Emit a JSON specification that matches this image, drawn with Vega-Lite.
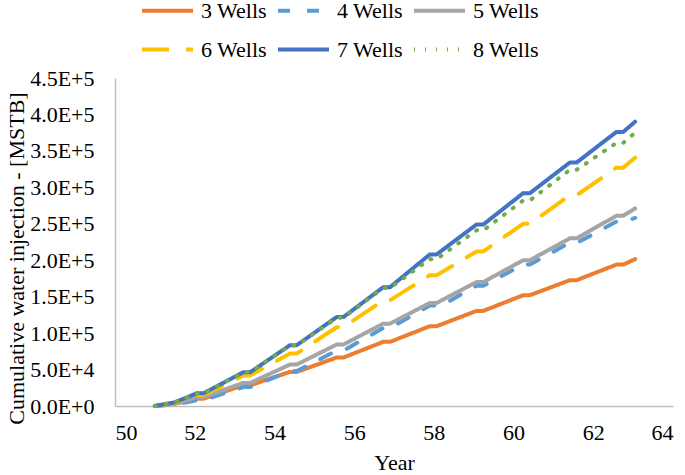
{
  "$schema": "https://vega.github.io/schema/vega-lite/v6.json",
  "width": 558,
  "height": 328,
  "autosize": {"type": "none"},
  "padding": {"left": 115, "top": 78, "right": 12, "bottom": 69},
  "background": "white",
  "config": {
    "view": {"stroke": null},
    "font": "Liberation Serif, Times New Roman, serif",
    "style": {
      "guide-label": {"font": "Liberation Serif, Times New Roman, serif", "fontSize": 22, "fontWeight": "normal", "fill": "#000000"},
      "guide-title": {"font": "Liberation Serif, Times New Roman, serif", "fontSize": 22, "fontWeight": "normal", "fill": "#000000"}
    },
    "axis": {
      "grid": false,
      "ticks": false,
      "tickSize": 0,
      "domainColor": "#BFBFBF",
      "domainWidth": 1.5,
      "labelFont": "Liberation Serif, Times New Roman, serif",
      "labelFontSize": 22,
      "labelFontWeight": "normal",
      "labelColor": "#000000",
      "titleFont": "Liberation Serif, Times New Roman, serif",
      "titleFontSize": 22,
      "titleFontWeight": "normal",
      "titleColor": "#000000"
    },
    "legend": {
      "labelFont": "Liberation Serif, Times New Roman, serif",
      "labelFontSize": 22,
      "labelFontWeight": "normal",
      "labelColor": "#000000"
    }
  },
  "data": {
    "values": [
      {"series": "3 Wells", "year": 51.0, "value": 0},
      {"series": "3 Wells", "year": 51.5, "value": 3},
      {"series": "3 Wells", "year": 52.05, "value": 10},
      {"series": "3 Wells", "year": 52.22, "value": 10},
      {"series": "3 Wells", "year": 53.22, "value": 28.4},
      {"series": "3 Wells", "year": 53.39, "value": 28.4},
      {"series": "3 Wells", "year": 54.39, "value": 46.7},
      {"series": "3 Wells", "year": 54.56, "value": 46.7},
      {"series": "3 Wells", "year": 55.56, "value": 66.5},
      {"series": "3 Wells", "year": 55.73, "value": 66.5},
      {"series": "3 Wells", "year": 56.73, "value": 88},
      {"series": "3 Wells", "year": 56.9, "value": 88},
      {"series": "3 Wells", "year": 57.9, "value": 109.5},
      {"series": "3 Wells", "year": 58.07, "value": 109.5},
      {"series": "3 Wells", "year": 59.07, "value": 130.5},
      {"series": "3 Wells", "year": 59.24, "value": 130.5},
      {"series": "3 Wells", "year": 60.24, "value": 152},
      {"series": "3 Wells", "year": 60.41, "value": 152},
      {"series": "3 Wells", "year": 61.41, "value": 172.6},
      {"series": "3 Wells", "year": 61.58, "value": 172.6},
      {"series": "3 Wells", "year": 62.58, "value": 194},
      {"series": "3 Wells", "year": 62.75, "value": 194},
      {"series": "3 Wells", "year": 63.05, "value": 201.5},

      {"series": "4 Wells", "year": 51.0, "value": 0},
      {"series": "4 Wells", "year": 51.5, "value": 2},
      {"series": "4 Wells", "year": 52.05, "value": 8},
      {"series": "4 Wells", "year": 52.22, "value": 8},
      {"series": "4 Wells", "year": 53.22, "value": 26},
      {"series": "4 Wells", "year": 53.39, "value": 26},
      {"series": "4 Wells", "year": 54.39, "value": 48},
      {"series": "4 Wells", "year": 54.56, "value": 48},
      {"series": "4 Wells", "year": 55.56, "value": 76},
      {"series": "4 Wells", "year": 55.73, "value": 76},
      {"series": "4 Wells", "year": 56.73, "value": 107},
      {"series": "4 Wells", "year": 56.9, "value": 107},
      {"series": "4 Wells", "year": 57.9, "value": 138},
      {"series": "4 Wells", "year": 58.2, "value": 138},
      {"series": "4 Wells", "year": 59.07, "value": 165},
      {"series": "4 Wells", "year": 59.24, "value": 165},
      {"series": "4 Wells", "year": 60.24, "value": 194},
      {"series": "4 Wells", "year": 60.41, "value": 194},
      {"series": "4 Wells", "year": 61.41, "value": 224},
      {"series": "4 Wells", "year": 61.6, "value": 224},
      {"series": "4 Wells", "year": 62.58, "value": 253},
      {"series": "4 Wells", "year": 62.8, "value": 253},
      {"series": "4 Wells", "year": 63.05, "value": 258},

      {"series": "5 Wells", "year": 51.0, "value": 0},
      {"series": "5 Wells", "year": 51.5, "value": 3},
      {"series": "5 Wells", "year": 52.05, "value": 12.4},
      {"series": "5 Wells", "year": 52.22, "value": 12.4},
      {"series": "5 Wells", "year": 53.22, "value": 31.6},
      {"series": "5 Wells", "year": 53.39, "value": 31.6},
      {"series": "5 Wells", "year": 54.39, "value": 56.9},
      {"series": "5 Wells", "year": 54.56, "value": 56.9},
      {"series": "5 Wells", "year": 55.56, "value": 84.3},
      {"series": "5 Wells", "year": 55.73, "value": 84.3},
      {"series": "5 Wells", "year": 56.73, "value": 113},
      {"series": "5 Wells", "year": 56.9, "value": 113},
      {"series": "5 Wells", "year": 57.9, "value": 141.4},
      {"series": "5 Wells", "year": 58.07, "value": 141.4},
      {"series": "5 Wells", "year": 59.07, "value": 170},
      {"series": "5 Wells", "year": 59.24, "value": 170},
      {"series": "5 Wells", "year": 60.24, "value": 200},
      {"series": "5 Wells", "year": 60.41, "value": 200},
      {"series": "5 Wells", "year": 61.41, "value": 230},
      {"series": "5 Wells", "year": 61.58, "value": 230},
      {"series": "5 Wells", "year": 62.58, "value": 261},
      {"series": "5 Wells", "year": 62.75, "value": 261},
      {"series": "5 Wells", "year": 63.05, "value": 271},

      {"series": "6 Wells", "year": 51.0, "value": 0},
      {"series": "6 Wells", "year": 51.5, "value": 4},
      {"series": "6 Wells", "year": 52.05, "value": 15},
      {"series": "6 Wells", "year": 52.22, "value": 15},
      {"series": "6 Wells", "year": 53.22, "value": 42},
      {"series": "6 Wells", "year": 53.39, "value": 42},
      {"series": "6 Wells", "year": 54.39, "value": 72},
      {"series": "6 Wells", "year": 54.56, "value": 72},
      {"series": "6 Wells", "year": 55.56, "value": 108},
      {"series": "6 Wells", "year": 55.73, "value": 108},
      {"series": "6 Wells", "year": 56.73, "value": 145},
      {"series": "6 Wells", "year": 56.9, "value": 145},
      {"series": "6 Wells", "year": 57.9, "value": 179.5},
      {"series": "6 Wells", "year": 58.07, "value": 179.5},
      {"series": "6 Wells", "year": 59.07, "value": 212},
      {"series": "6 Wells", "year": 59.24, "value": 212},
      {"series": "6 Wells", "year": 60.24, "value": 250},
      {"series": "6 Wells", "year": 60.41, "value": 250},
      {"series": "6 Wells", "year": 61.41, "value": 289},
      {"series": "6 Wells", "year": 61.58, "value": 289},
      {"series": "6 Wells", "year": 62.58, "value": 327},
      {"series": "6 Wells", "year": 62.75, "value": 327},
      {"series": "6 Wells", "year": 63.05, "value": 340.6},

      {"series": "7 Wells", "year": 51.0, "value": 0},
      {"series": "7 Wells", "year": 51.5, "value": 5},
      {"series": "7 Wells", "year": 52.05, "value": 17.4},
      {"series": "7 Wells", "year": 52.22, "value": 17.4},
      {"series": "7 Wells", "year": 53.22, "value": 46.3},
      {"series": "7 Wells", "year": 53.39, "value": 46.3},
      {"series": "7 Wells", "year": 54.39, "value": 83.4},
      {"series": "7 Wells", "year": 54.56, "value": 83.4},
      {"series": "7 Wells", "year": 55.56, "value": 122},
      {"series": "7 Wells", "year": 55.73, "value": 122},
      {"series": "7 Wells", "year": 56.73, "value": 163},
      {"series": "7 Wells", "year": 56.9, "value": 163},
      {"series": "7 Wells", "year": 57.9, "value": 208},
      {"series": "7 Wells", "year": 58.07, "value": 208},
      {"series": "7 Wells", "year": 59.07, "value": 249},
      {"series": "7 Wells", "year": 59.24, "value": 249},
      {"series": "7 Wells", "year": 60.24, "value": 292},
      {"series": "7 Wells", "year": 60.41, "value": 292},
      {"series": "7 Wells", "year": 61.41, "value": 334},
      {"series": "7 Wells", "year": 61.58, "value": 334},
      {"series": "7 Wells", "year": 62.58, "value": 376},
      {"series": "7 Wells", "year": 62.75, "value": 376},
      {"series": "7 Wells", "year": 63.05, "value": 390},

      {"series": "8 Wells", "year": 51.0, "value": 0},
      {"series": "8 Wells", "year": 51.5, "value": 5},
      {"series": "8 Wells", "year": 52.05, "value": 17.4},
      {"series": "8 Wells", "year": 52.22, "value": 17.4},
      {"series": "8 Wells", "year": 53.22, "value": 46.3},
      {"series": "8 Wells", "year": 53.39, "value": 46.3},
      {"series": "8 Wells", "year": 54.39, "value": 83},
      {"series": "8 Wells", "year": 54.56, "value": 83},
      {"series": "8 Wells", "year": 55.56, "value": 121},
      {"series": "8 Wells", "year": 55.73, "value": 121},
      {"series": "8 Wells", "year": 56.73, "value": 162},
      {"series": "8 Wells", "year": 56.9, "value": 162},
      {"series": "8 Wells", "year": 57.9, "value": 201.5},
      {"series": "8 Wells", "year": 58.07, "value": 201.5},
      {"series": "8 Wells", "year": 59.07, "value": 241},
      {"series": "8 Wells", "year": 59.24, "value": 241},
      {"series": "8 Wells", "year": 60.24, "value": 282},
      {"series": "8 Wells", "year": 60.41, "value": 282},
      {"series": "8 Wells", "year": 61.41, "value": 324},
      {"series": "8 Wells", "year": 61.58, "value": 324},
      {"series": "8 Wells", "year": 62.58, "value": 361},
      {"series": "8 Wells", "year": 62.75, "value": 361},
      {"series": "8 Wells", "year": 63.05, "value": 375}
    ]
  },
  "transform": [{"calculate": "datum.value * 1000", "as": "mstb"}],
  "mark": {"type": "line", "strokeCap": "round", "strokeJoin": "round"},
  "encoding": {
    "x": {
      "field": "year",
      "type": "quantitative",
      "scale": {"domain": [50, 64], "nice": false, "zero": false},
      "axis": {"values": [50, 52, 54, 56, 58, 60, 62, 64], "title": "Year", "labelFont": "Liberation Serif, Times New Roman, serif", "labelPadding": 16, "titleY": 56, "titleBaseline": "middle"}
    },
    "y": {
      "field": "mstb",
      "type": "quantitative",
      "scale": {"domain": [0, 450000], "nice": false},
      "axis": {
        "values": [0, 50000, 100000, 150000, 200000, 250000, 300000, 350000, 400000, 450000],
        "labelExpr": "replace(format(datum.value, '.1e'), 'e', 'E')",
        "labelFont": "Liberation Serif, Times New Roman, serif",
        "labelPadding": 21,
        "title": "Cumulative water injection - [MSTB]",
        "titleX": -99,
        "titleY": 180,
        "titleAngle": -90,
        "titleBaseline": "middle",
        "titleAlign": "center"
      }
    },
    "color": {
      "field": "series",
      "type": "nominal",
      "scale": {
        "domain": ["3 Wells", "4 Wells", "5 Wells", "6 Wells", "7 Wells", "8 Wells"],
        "range": ["#ED7D31", "#5B9BD5", "#A5A5A5", "#FFC000", "#4472C4", "#70AD47"]
      },
      "legend": {
        "orient": "none",
        "legendX": 25,
        "legendY": -95,
        "direction": "horizontal",
        "columns": 3,
        "title": null,
        "symbolType": "stroke",
        "symbolSize": 2601,
        "symbolStrokeWidth": 4,
        "labelFont": "Liberation Serif, Times New Roman, serif",
        "labelOffset": 6,
        "columnPadding": 2,
        "rowPadding": -3.5,
        "padding": 0
      }
    },
    "strokeDash": {
      "field": "series",
      "type": "nominal",
      "scale": {
        "domain": ["3 Wells", "4 Wells", "5 Wells", "6 Wells", "7 Wells", "8 Wells"],
        "range": [[1, 0], [12, 17], [1, 0], [27, 17], [1, 0], [1, 10]]
      },
      "legend": null
    },
    "strokeWidth": {
      "field": "series",
      "type": "nominal",
      "scale": {
        "domain": ["3 Wells", "4 Wells", "5 Wells", "6 Wells", "7 Wells", "8 Wells"],
        "range": [4, 4, 4, 4, 4.5, 5.5]
      },
      "legend": null
    }
  }
}
